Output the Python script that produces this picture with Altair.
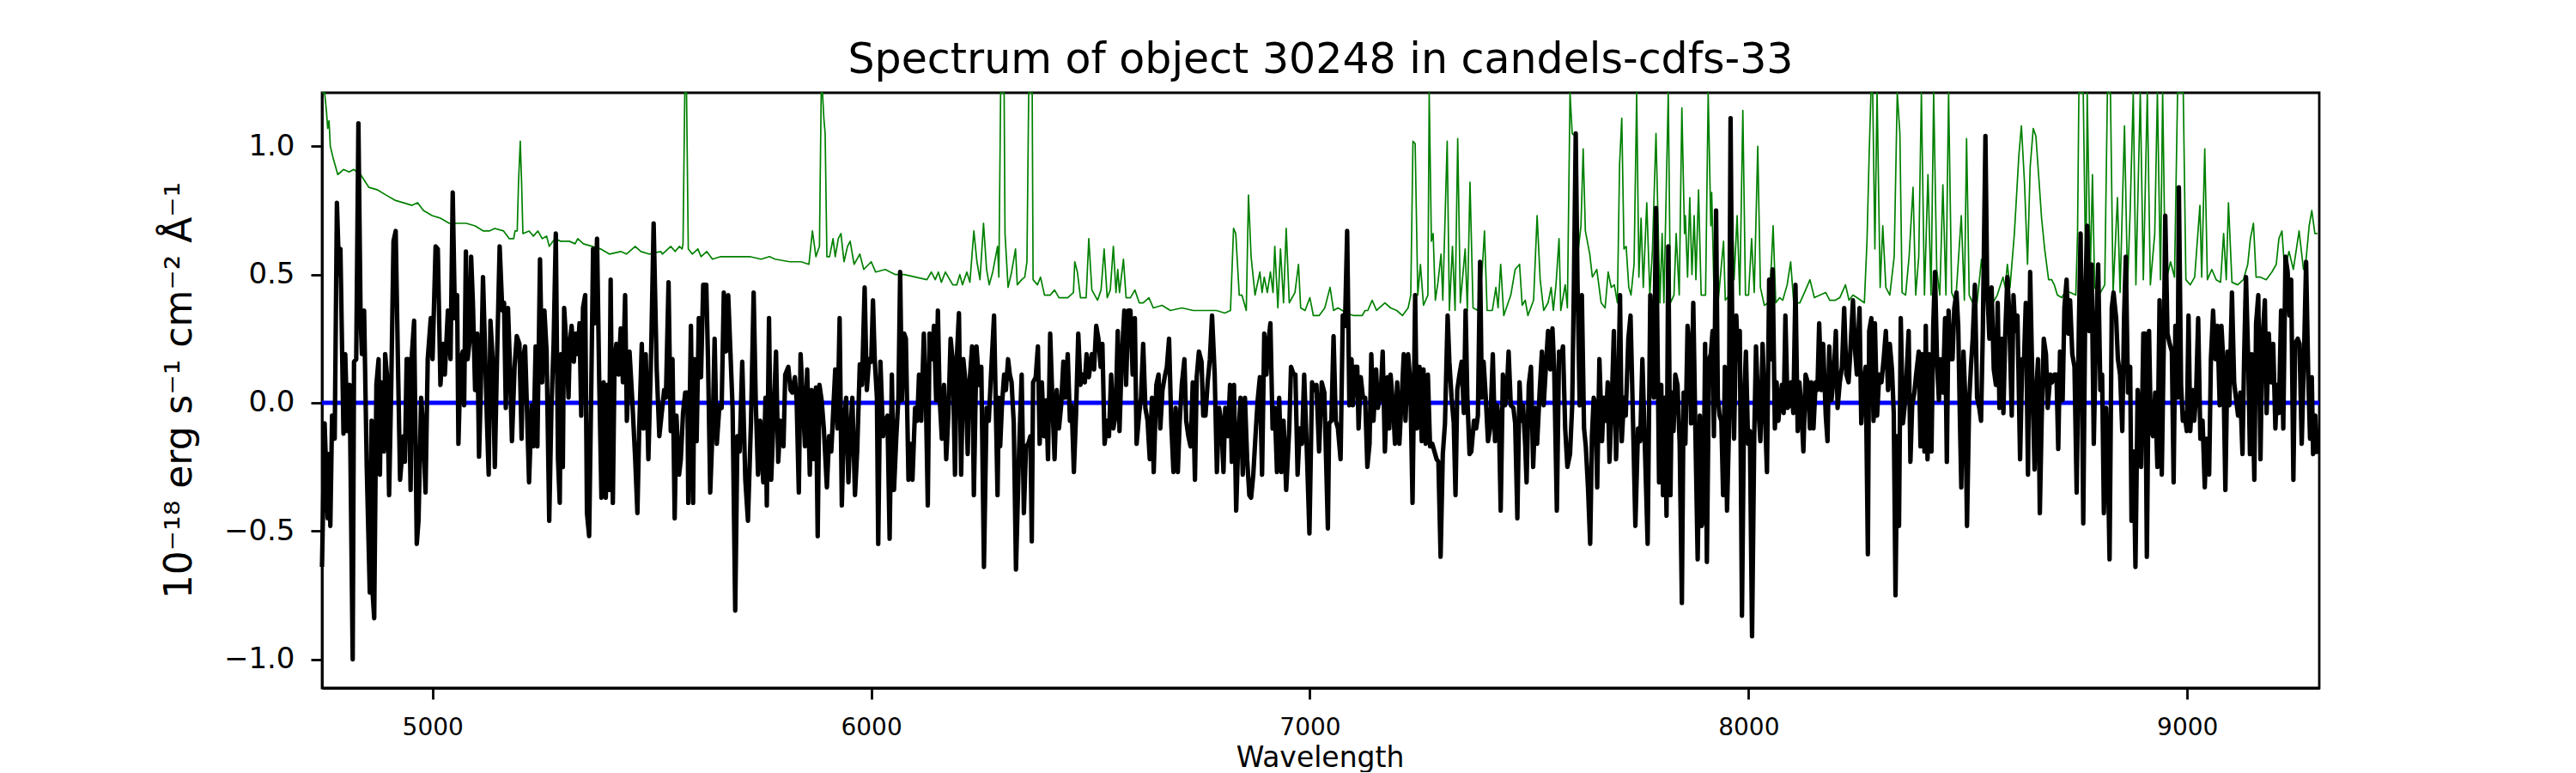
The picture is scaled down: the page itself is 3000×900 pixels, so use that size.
import altair as alt
import pandas as pd

TITLE = "Spectrum of object 30248 in candels-cdfs-33"
X_TITLE = "Wavelength"
Y_TITLE = "10\u207b\u00b9\u2078 erg s\u207b\u00b9 cm\u207b\u00b2 \u00c5\u207b\u00b9"
X_TICKS = [5000, 6000, 7000, 8000, 9000]
Y_TICKS = [-1.0, -0.5, 0.0, 0.5, 1.0]
X_DOMAIN = [4748, 9301]
Y_DOMAIN = [-1.112, 1.209]
ZERO_LEVEL = [0.0]

# observed flux (wavelength, flux)
FLUX_1 = [(4748,-0.64),(4754,-0.08),(4761,-0.45),(4764,-0.2),(4767,-0.48),(4771,-0.05),(4777,-0.14),(4782,0.78),(4787,0.5),(4790,0.6),
(4797,-0.12),(4801,0.19),(4806,-0.11),(4811,0.07),(4818,-1.0),(4821,0.16),(4826,0.17),(4831,1.09),(4836,0.33),(4839,0.19),
(4844,0.36),(4850,-0.25),(4857,-0.74),(4861,-0.07),(4863,-0.73),(4867,-0.84),(4872,0.07),(4877,0.17),(4880,-0.28),(4883,0.08),
(4889,-0.19),(4892,0.19),(4896,0.11),(4901,-0.36),(4906,0.08),(4911,0.63),(4916,0.67),(4921,0.17),(4926,-0.3),(4934,-0.13),
(4937,-0.23),(4941,0.17),(4945,0.17),(4950,-0.34),(4953,0.19),(4958,0.32),(4964,-0.55),(4968,-0.46),(4974,0.02),(4978,-0.08),
(4984,-0.35),(4989,0.17),(4996,0.33),(5000,0.17),(5007,0.61),(5012,0.6),(5018,0.07),(5024,0.23),(5028,0.11),(5035,0.36),
(5041,0.17),(5046,0.82),(5051,0.33),(5056,0.42),(5059,-0.16),(5064,0.17),(5069,0.2),(5072,-0.01),(5076,0.59),(5080,0.17),
(5085,0.25),(5088,0.57),(5092,0.39),(5097,0.05),(5102,0.27),(5106,-0.21),(5110,0.05),(5115,0.49),(5119,0.25),(5124,-0.07),
(5128,-0.28),(5132,0.32),(5137,0.17),(5142,-0.25),(5147,0.17),(5153,0.61),(5159,0.36),(5163,0.39),(5167,-0.02),(5172,0.37),
(5176,0.17),(5181,-0.15),(5187,0.14),(5192,0.26),(5198,0.23),(5203,-0.14),(5206,0.17),(5211,0.22),(5215,-0.01),(5220,-0.31),
(5226,-0.01),(5230,-0.17),(5235,0.22),(5239,-0.17),(5245,0.56),(5250,0.08),(5255,0.36),(5260,0.2),(5266,-0.46),(5271,-0.02),
(5276,0.23),(5281,0.66),(5286,-0.22),(5290,-0.39),(5293,0.19),(5297,-0.25),(5300,0.37),(5305,0.23),(5310,0.02),(5313,0.23),
(5317,0.3),(5322,0.16),(5327,0.27),(5331,0.19),(5335,0.31),(5339,-0.05),(5343,0.37),(5348,0.42),(5352,-0.43),(5357,-0.52),
(5362,0.08),(5366,0.6),(5370,0.31),(5375,0.64),(5380,0.08),(5385,-0.37),(5390,0.08),(5395,-0.37),(5399,0.07),(5402,-0.34),
(5406,0.48),(5411,-0.39),(5415,0.17),(5419,0.23),(5424,0.11),(5429,0.29),(5434,0.08),(5439,0.42),(5443,-0.07),(5449,0.2),
(5455,0.02),(5462,-0.22),(5467,-0.43),(5471,-0.11),(5477,0.23),(5481,-0.1),(5486,0.19),(5492,-0.22),(5498,0.17),(5504,0.7),
(5511,0.13),(5517,-0.13)]

FLUX_2 = [(5528,0.05),(5532,0.02),(5538,0.47),(5543,-0.11),(5547,0.17),(5552,-0.45),(5556,-0.05),(5562,-0.28),(5566,-0.22),(5571,-0.04),
(5576,0.04),(5581,0.04),(5583,-0.39),(5589,0.3),(5594,-0.39),(5597,0.17),(5602,-0.15),(5607,0.33),(5612,0.1),(5617,0.46),
(5624,0.46),(5628,0.17),(5633,-0.35),(5639,-0.07),(5643,0.25),(5648,-0.16),(5654,-0.01),(5659,-0.02),(5664,0.43),(5669,0.2),
(5674,0.42),(5679,0.2),(5684,-0.02),(5690,-0.81),(5695,-0.13),(5700,-0.19),(5706,0.16),(5713,-0.3),(5719,-0.46),(5726,-0.07),
(5732,0.43),(5737,-0.01),(5742,-0.28),(5747,-0.07),(5754,-0.31),(5759,0.02),(5762,-0.4),(5767,0.33),(5772,-0.3),(5777,-0.08),
(5783,0.2),(5788,-0.23),(5793,-0.07),(5800,-0.17),(5804,0.11),(5811,0.14),(5816,0.05),(5820,0.04),(5826,0.1),(5830,0.01),
(5835,-0.35),(5839,0.19),(5843,0.05),(5849,-0.17),(5854,0.13),(5860,-0.28),(5864,0.05),(5869,-0.22),(5874,0.06),(5878,-0.52),
(5882,0.07),(5887,0.01),(5892,-0.1),(5899,-0.33),(5904,-0.13),(5909,-0.19),(5914,-0.01),(5918,0.13),(5923,-0.1),(5928,0.33),
(5933,-0.4),(5938,-0.07),(5943,0.02),(5948,-0.31),(5952,-0.13),(5957,0.02),(5963,-0.36),(5968,-0.19),(5974,0.15),(5979,0.07),
(5985,0.45),(5990,0.05),(5995,0.17),(6000,0.16),(6004,0.4),(6008,0.17),(6013,0.02),(6016,-0.55),(6021,0.16),(6027,-0.13),
(6032,-0.07),(6037,-0.05),(6042,-0.53),(6047,0.11),(6052,-0.34),(6057,-0.14),(6062,0.02),(6066,0.51),(6070,0.01),(6075,0.27),
(6079,0.25),(6085,-0.3),(6090,-0.16),(6094,-0.3),(6100,-0.02),(6105,-0.07),(6109,0.11),(6114,-0.07),(6120,0.27),(6125,-0.02),
(6129,-0.4),(6133,0.27),(6139,0.17),(6143,0.3),(6148,0.01),(6152,0.36),(6156,0.02),(6161,-0.14),(6166,0.07),(6171,-0.22),
(6176,-0.04),(6181,0.25),(6186,0.16),(6191,-0.28),(6195,0.17),(6200,0.35),(6205,-0.28),(6210,0.17),(6215,0.08),(6220,-0.2),
(6223,0.05),(6230,0.22),(6234,-0.36),(6240,0.22),(6246,0.07),(6251,0.14),(6257,-0.64),(6263,-0.02),(6268,-0.07),(6274,0.14),
(6280,0.34)]

FLUX_3 = [(6288,-0.36),(6291,0.02),(6294,-0.17),(6298,-0.01),(6303,0.11),(6307,0.05),(6312,0.17),(6316,0.11),(6320,0.08),(6325,-0.08),
(6330,-0.65),(6337,-0.19),(6343,0.11),(6348,-0.43),(6353,-0.17),(6358,-0.16),(6363,-0.13),(6366,-0.54),(6369,0.08),(6375,0.1),
(6380,0.22),(6384,-0.16),(6389,0.08),(6394,-0.13),(6399,0.01),(6403,-0.22),(6408,0.27),(6414,-0.04),(6418,-0.22),(6423,0.05),
(6428,-0.1),(6433,-0.01),(6438,0.16),(6442,0.02),(6448,0.19),(6453,-0.07),(6457,-0.01),(6462,-0.27),(6467,-0.04),(6472,0.27),
(6477,0.07),(6481,0.11),(6487,0.08),(6491,0.19),(6496,0.1),(6503,0.19),(6508,0.13),(6513,0.3),(6518,0.25),(6523,0.14),
(6527,0.23),(6532,-0.16),(6538,-0.07),(6542,-0.13),(6547,0.11),(6552,-0.1),(6557,-0.05),(6562,0.28),(6566,-0.11),(6571,0.17),
(6577,0.36),(6581,0.07),(6586,0.36),(6591,0.36),(6596,0.11),(6601,0.33),(6605,-0.16),(6611,-0.04),(6615,0.02),(6620,0.23),
(6625,-0.02),(6630,-0.07),(6635,-0.22),(6640,0.02),(6644,-0.27),(6650,0.07),(6655,0.11),(6659,-0.1),(6664,0.05),(6669,0.1),
(6674,0.14),(6679,0.25),(6684,-0.08),(6689,-0.27),(6694,-0.02),(6699,-0.27),(6703,-0.08),(6708,0.07),(6714,0.17),(6718,-0.07),
(6723,-0.13),(6728,-0.17),(6733,0.08),(6738,-0.3),(6742,0.1),(6747,0.2),(6753,0.16),(6757,-0.05),(6762,-0.05),(6767,0.08),
(6772,0.17),(6777,0.34),(6783,0.11),(6788,-0.27),(6793,-0.02),(6798,-0.07),(6803,-0.27),(6807,-0.02),(6813,-0.13),(6818,0.07),
(6822,-0.23),(6827,0.07),(6832,-0.42),(6837,-0.13),(6842,0.02),(6847,-0.28),(6852,0.02),(6857,-0.22),(6862,-0.36),(6866,-0.37),
(6871,-0.28),(6876,-0.13),(6881,0.01),(6886,0.1),(6891,-0.28),(6896,0.27),(6901,0.11),(6905,0.23),(6910,0.31),(6915,-0.1),
(6920,-0.02),(6925,-0.27),(6930,0.02),(6935,-0.27),(6940,-0.07),(6946,-0.34),(6953,-0.1),(6957,0.14),(6963,0.11),(6967,0.11),
(6972,-0.28),(6977,-0.1),(6982,-0.16),(6987,0.11),(6992,-0.13),(6999,-0.51),(7005,0.08),(7010,0.05),(7015,0.07),(7021,-0.19),
(7027,0.08),(7033,0.04),(7041,-0.49)]

FLUX_4 = [(7044,-0.08),(7049,-0.07),(7054,0.26),(7059,-0.07),(7064,-0.1),(7070,-0.22),(7075,0.34),(7080,0.3),(7085,0.67),(7090,-0.01),
(7095,0.17),(7098,-0.01),(7103,0.14),(7108,0.14),(7111,-0.1),(7116,0.1),(7121,0.02),(7126,0.02),(7131,-0.25),(7136,-0.16),
(7140,0.19),(7145,-0.07),(7151,0.13),(7155,-0.02),(7162,0.05),(7166,0.2),(7171,-0.19),(7177,0.1),(7181,-0.1),(7184,0.11),
(7190,-0.02),(7194,-0.16),(7199,0.08),(7204,-0.16),(7211,0.08),(7214,0.19),(7218,-0.07),(7224,0.19),(7229,0.08),(7234,-0.39),
(7240,0.42),(7244,-0.1),(7250,0.14),(7255,-0.15),(7259,0.13),(7264,-0.16),(7269,0.11),(7274,-0.17),(7279,-0.16),(7284,-0.19),
(7289,-0.22),(7293,-0.23),(7298,-0.6),(7303,-0.2),(7308,-0.08),(7314,0.34),(7318,0.16),(7323,0.02),(7328,-0.08),(7332,-0.36),
(7336,0.05),(7341,0.11),(7346,0.16),(7351,-0.04),(7355,0.36),(7359,0.02),(7364,-0.2),(7368,-0.19),(7374,-0.07),(7379,-0.1),
(7383,-0.05),(7388,0.55),(7392,0.02),(7396,0.16),(7401,0.02),(7406,-0.15),(7411,-0.1),(7417,0.19),(7422,-0.15),(7427,-0.01),
(7431,-0.07),(7435,-0.42),(7440,0.11),(7445,-0.01),(7449,0.04),(7453,0.2),(7458,-0.01),(7464,-0.02),(7468,-0.08),(7473,-0.45),
(7478,0.08),(7482,-0.07),(7486,-0.01),(7491,-0.17),(7494,-0.31),(7499,0.07),(7504,0.14),(7509,-0.25),(7514,-0.02),(7518,-0.16),
(7524,0.05),(7529,0.2),(7533,-0.01),(7538,0.14),(7543,0.28),(7548,0.13),(7553,0.29),(7557,0.13),(7563,-0.42),(7568,0.2),
(7572,0.17),(7577,0.22),(7582,-0.1),(7587,-0.25),(7593,-0.2),(7598,-0.01),(7602,0.48),(7606,1.05),(7610,0.48),(7615,-0.01),
(7620,0.42),(7625,-0.1),(7629,-0.17),(7634,-0.33),(7639,-0.55),(7643,-0.13),(7647,0.02),(7651,-0.01),(7655,-0.33),(7660,0.17),
(7666,-0.15),(7670,0.02),(7675,-0.07),(7679,0.08),(7683,-0.23),(7688,-0.01),(7693,0.28),(7698,-0.22),(7703,0.05),(7707,0.42),
(7711,-0.15),(7716,0.02),(7720,-0.05),(7726,0.25),(7731,0.34),(7735,0.05),(7742,-0.48),(7748,-0.1),(7753,-0.15),(7758,0.17),
(7763,-0.13),(7770,-0.55),(7776,0.42),(7781,0.17),(7784,0.02),(7789,0.76)]

FLUX_5 = [(7796,-0.31),(7801,0.07),(7805,-0.36),(7809,0.02),(7813,-0.44),(7817,0.61),(7822,-0.36),(7825,0.04),(7829,-0.11),(7833,0.11),
(7838,0.07),(7843,-0.16),(7848,-0.78),(7852,0.04),(7856,-0.16),(7861,0.3),(7866,0.2),(7869,-0.08),(7874,0.39),(7879,-0.13),
(7884,-0.61),(7889,-0.05),(7893,-0.48),(7897,-0.45),(7901,0.23),(7905,-0.62),(7910,0.17),(7914,0.19),(7918,0.28),(7921,-0.13),
(7926,0.75),(7930,0.02),(7934,-0.05),(7938,-0.07),(7942,-0.36),(7946,0.14),(7951,-0.42),(7955,-0.13),(7959,1.11),(7964,0.02),
(7967,-0.14),(7972,0.34),(7976,0.17),(7980,0.28),(7985,-0.83),(7990,0.02),(7994,0.2),(7999,-0.16),(8003,-0.11),(8008,-0.91),
(8013,-0.13),(8017,0.22),(8022,-0.01),(8027,-0.15),(8032,0.23),(8037,-0.02),(8042,-0.27),(8047,0.48),(8052,0.17),(8055,0.52),
(8060,-0.1),(8064,0.08),(8068,-0.07),(8071,-0.01),(8076,0.07),(8080,-0.04),(8084,0.34),(8089,-0.02),(8093,-0.01),(8097,0.08),
(8102,-0.04),(8107,0.46),(8112,-0.11),(8116,0.08),(8120,-0.01),(8125,-0.19),(8130,0.11),(8135,0.08),(8140,-0.1),(8143,0.08),
(8148,-0.1),(8153,0.08),(8157,0.05),(8161,0.31),(8166,0.05),(8170,0.23),(8176,-0.05),(8180,-0.15),(8184,0.22),(8189,0.01),
(8194,0.1),(8199,0.28),(8203,-0.02),(8208,0.08),(8213,0.14),(8218,0.37),(8223,0.11),(8228,0.08),(8232,0.2),(8238,0.4),
(8243,0.2),(8247,0.11),(8253,0.37),(8257,-0.08),(8262,0.07),(8267,0.14),(8272,-0.59),(8275,0.28),(8280,0.33),(8285,-0.07),
(8288,0.31),(8293,-0.05),(8298,0.11),(8303,0.08),(8308,0.17),(8313,0.28),(8318,0.05),(8322,0.23),(8327,0.13),(8331,-0.04),
(8335,-0.75),(8339,-0.13),(8343,-0.48),(8347,0.33),(8352,-0.08),(8356,-0.01),(8360,0.1),(8365,0.28),(8369,-0.23),(8373,-0.01),
(8378,0.04),(8382,0.11),(8388,0.2),(8392,-0.17),(8396,0.19),(8401,-0.19),(8404,0.3),(8408,-0.22),(8412,0.19),(8417,-0.19),
(8421,0.3),(8425,0.51),(8430,0.14),(8434,0.01),(8438,0.17),(8443,0.04),(8448,0.33),(8452,-0.23),(8456,0.36),(8461,0.17),
(8465,0.17),(8469,0.37),(8474,0.43),(8478,0.3),(8482,-0.08),(8485,-0.33),(8490,0.2),(8494,0.02),(8498,-0.48),(8503,0.01),
(8507,0.14),(8511,0.25),(8516,0.46),(8521,0.02),(8526,-0.02),(8530,-0.07),(8534,0.27),(8540,1.04),(8544,0.45),(8549,0.25),
(8554,0.45)]

FLUX_6 = [(8559,0.13),(8564,0.07),(8568,0.39),(8572,-0.02),(8577,0.25),(8581,-0.04),(8585,0.26),(8590,0.49),(8594,0.36),(8600,-0.05),
(8604,0.42),(8608,0.28),(8613,0.34),(8619,-0.22),(8624,0.17),(8628,0.17),(8632,0.39),(8637,-0.28),(8642,0.51),(8647,0.08),
(8652,-0.26),(8656,0.05),(8660,0.17),(8664,-0.43),(8668,-0.08),(8673,0.25),(8678,0.19),(8682,-0.02),(8688,0.11),(8692,0.08),
(8697,0.11),(8702,0.11),(8706,-0.18),(8710,0.2),(8716,0.01),(8720,0.37),(8725,0.48),(8729,0.27),(8733,0.4),(8738,0.19),
(8743,0.14),(8748,-0.35),(8753,0.3),(8757,0.66),(8763,-0.47),(8768,0.46),(8772,0.69),(8777,0.28),(8782,0.54),(8787,-0.16),
(8792,0.27),(8797,0.54),(8802,0.05),(8806,0.11),(8810,-0.43),(8815,-0.02),(8819,-0.22),(8823,-0.61),(8828,0.37),(8832,0.43),
(8838,0.33),(8842,0.17),(8847,0.11),(8852,-0.11),(8856,0.33),(8860,0.57),(8865,0.04),(8870,0.14),(8873,-0.46),(8878,-0.19),
(8882,-0.64),(8887,0.05),(8891,-0.05),(8895,-0.25),(8900,0.27),(8904,0.27),(8908,-0.6),(8913,0.28),(8917,-0.1),(8922,-0.13),
(8927,0.04),(8932,-0.25),(8937,0.4),(8942,-0.28),(8947,0.28),(8950,0.73),(8955,0.27),(8960,0.23),(8965,0.2),(8969,-0.31),
(8973,0.3),(8978,0.02),(8981,0.84),(8986,0.07),(8990,-0.07),(8994,-0.04),(8999,-0.11),(9003,0.34),(9007,-0.11),(9012,0.05),
(9016,-0.07),(9020,0.02),(9025,0.33),(9030,-0.14),(9035,-0.07),(9040,-0.33),(9044,-0.14),(9050,-0.28),(9054,0.17),(9059,0.36),
(9064,0.17),(9069,0.3),(9074,-0.01),(9078,0.3),(9082,0.17),(9087,-0.34),(9092,0.2),(9096,-0.01),(9102,0.43),(9107,0.08),
(9111,0.02),(9116,-0.05),(9121,0.04),(9126,-0.2),(9130,0.2),(9134,0.49),(9139,0.17),(9143,-0.2),(9147,0.19),(9153,-0.3),
(9157,0.31),(9162,0.42),(9167,-0.22),(9171,0.23),(9177,0.4),(9181,-0.04),(9186,0.27),(9191,0.08),(9196,0.23),(9201,-0.1),
(9205,0.07),(9209,-0.04),(9214,0.36),(9219,-0.1),(9224,0.57),(9229,0.51),(9233,0.34),(9237,0.48),(9242,-0.3),(9246,0.23),
(9252,0.25),(9256,0.23),(9261,-0.16),(9266,0.17),(9271,0.55),(9276,0.1),(9280,-0.14),(9284,0.1),(9287,-0.2),(9292,-0.05),
(9297,-0.2)]

# noise / sky spectrum (wavelength, value); values above the frame are held at its top edge
SKY_1 = [(4748,1.5),(4754,1.21),(4758,1.14),(4761,1.07),(4764,1.1),(4767,1.0),(4774,0.95),(4784,0.89),(4797,0.91),(4810,0.9),
(4820,0.91),(4836,0.89),(4855,0.84),(4875,0.83),(4894,0.81),(4914,0.79),(4934,0.78),(4953,0.77),(4966,0.78),(4979,0.75),
(4999,0.73),(5018,0.72),(5038,0.7),(5057,0.7),(5077,0.7),(5097,0.69),(5116,0.67),(5129,0.67),(5142,0.68),(5162,0.67),
(5175,0.64),(5185,0.64),(5188,0.67),(5193,0.67),(5196,0.86),(5200,1.02),(5203,0.86),(5206,0.66),(5220,0.67),(5230,0.65),
(5240,0.67),(5250,0.64),(5260,0.65),(5266,0.61),(5279,0.64),(5292,0.63),(5312,0.63),(5325,0.62),(5331,0.64),(5344,0.62),
(5364,0.61),(5383,0.6),(5403,0.58),(5429,0.59),(5442,0.58),(5462,0.61),(5475,0.59),(5494,0.58),(5520,0.59)]

SKY_2 = [(5524,0.58),(5543,0.61),(5553,0.59),(5563,0.61),(5569,0.6),(5571,0.62),(5575,2.0),(5579,2.0),(5583,0.6),(5592,0.58),
(5605,0.6),(5612,0.57),(5625,0.59),(5638,0.56),(5657,0.57),(5690,0.57),(5723,0.57),(5749,0.56),(5768,0.57),(5781,0.56),
(5814,0.55),(5840,0.55),(5858,0.54),(5866,0.67),(5874,0.57),(5882,0.61),(5886,1.8),(5889,1.6),(5892,1.11),(5895,1.05),
(5899,0.57),(5905,0.57),(5913,0.64),(5918,0.57),(5925,0.64),(5931,0.66),(5938,0.55),(5946,0.61),(5952,0.63),(5961,0.54),
(5974,0.58),(5983,0.52),(6000,0.55),(6010,0.51),(6032,0.52),(6055,0.5),(6075,0.5),(6101,0.49),(6127,0.48),(6137,0.51),
(6146,0.48),(6153,0.51),(6160,0.47),(6169,0.51),(6186,0.46),(6195,0.46),(6202,0.5),(6208,0.46),(6218,0.51),(6225,0.47),
(6234,0.67),(6241,0.55),(6248,0.48),(6256,0.7),(6263,0.52),(6269,0.46),(6277,0.51)]

SKY_3 = [(6288,0.61),(6291,0.49),(6295,1.8),(6299,2.0),(6303,1.8),(6305,0.66),(6312,0.45),(6320,0.51),(6329,0.6),(6333,0.46),
(6343,0.48),(6350,0.49),(6355,0.55),(6359,1.8),(6363,2.0),(6367,1.8),(6369,0.48),(6379,0.46),(6386,0.49),(6395,0.42),
(6408,0.42),(6418,0.44),(6428,0.41),(6448,0.41),(6461,0.43),(6464,0.55),(6470,0.51),(6477,0.41),(6490,0.41),(6496,0.64),
(6503,0.44),(6516,0.4),(6524,0.44),(6531,0.6),(6538,0.41),(6545,0.44),(6552,0.61),(6558,0.43),(6562,0.52),(6566,0.43),
(6575,0.56),(6581,0.41),(6591,0.41),(6601,0.44),(6611,0.39),(6620,0.39),(6633,0.41),(6643,0.37),(6663,0.38),(6682,0.36),
(6708,0.37),(6734,0.36),(6761,0.36),(6787,0.36),(6806,0.35),(6819,0.36),(6826,0.68),(6831,0.66),(6839,0.42),(6845,0.42),
(6855,0.36),(6860,0.81),(6866,0.57),(6875,0.42),(6886,0.51),(6891,0.43),(6896,0.49),(6903,0.43),(6910,0.51),(6916,0.43),
(6920,0.61),(6927,0.37),(6933,0.6),(6940,0.39),(6946,0.68),(6953,0.39),(6966,0.43),(6974,0.54),(6979,0.37),(6989,0.36),
(7000,0.41),(7008,0.34),(7021,0.34),(7034,0.37),(7046,0.45)]

SKY_4 = [(7054,0.36),(7064,0.37),(7074,0.36),(7083,0.35),(7100,0.34),(7119,0.34),(7126,0.36),(7132,0.36),(7142,0.4),(7152,0.36),
(7171,0.39),(7184,0.37),(7198,0.36),(7211,0.34),(7224,0.37),(7230,0.42),(7235,1.02),(7240,1.01),(7246,0.42),(7252,0.54),
(7259,0.38),(7269,0.42),(7272,1.8),(7277,0.63),(7281,0.66),(7286,0.4),(7292,0.47),(7299,0.58),(7303,0.4),(7313,1.02),
(7318,0.36),(7325,0.61),(7331,0.36),(7337,1.03),(7343,0.39),(7354,0.6),(7359,0.36),(7365,0.86),(7372,0.37),(7383,0.36),
(7393,0.52),(7398,0.67),(7404,0.36),(7416,0.36),(7424,0.45),(7429,0.37),(7435,0.54),(7442,0.34),(7458,0.42),(7468,0.52),
(7478,0.54),(7484,0.38),(7491,0.4),(7497,0.34),(7510,0.4),(7518,0.73),(7525,0.48),(7533,0.36),(7543,0.39),(7550,0.45),
(7555,0.36),(7561,0.46),(7568,0.64),(7572,0.36),(7582,0.46),(7587,0.37),(7593,1.8),(7598,1.05),(7605,1.04),(7612,0.6),
(7618,0.69),(7623,0.99),(7628,0.67),(7638,0.58),(7644,0.49),(7654,0.52),(7664,0.39),(7673,0.37),(7680,0.51),(7687,0.45),
(7694,0.46),(7701,0.39),(7706,0.93),(7711,1.11),(7716,0.6),(7721,0.61),(7727,0.45),(7732,0.42),(7739,0.54),(7745,1.8),
(7750,0.49),(7755,0.72),(7760,0.45),(7768,0.78),(7775,0.42),(7781,0.6),(7789,1.05)]

SKY_5 = [(7798,0.39),(7803,0.66),(7807,0.39),(7817,1.8),(7822,0.39),(7830,0.42),(7835,0.66),(7842,0.42),(7848,1.15),(7854,0.66),
(7856,0.73),(7861,0.49),(7866,0.8),(7871,0.5),(7876,0.73),(7880,0.48),(7886,0.83),(7892,0.42),(7902,0.42),(7908,1.8),
(7914,0.69),(7916,0.82),(7921,0.45),(7931,0.4),(7943,0.63),(7947,0.4),(7957,0.42),(7962,0.8),(7967,0.48),(7974,0.73),
(7980,0.42),(7987,1.14),(7993,0.42),(8000,0.42),(8007,0.64),(8013,0.43),(8021,1.0),(8027,0.45),(8036,0.38),(8045,0.39),
(8052,0.54),(8056,0.69),(8062,0.39),(8071,0.41),(8078,0.4),(8088,0.46),(8096,0.55),(8103,0.39),(8117,0.39),(8130,0.44),
(8140,0.48),(8150,0.41),(8163,0.42),(8176,0.43),(8185,0.4),(8198,0.4),(8208,0.41),(8221,0.46),(8229,0.4),(8238,0.42),
(8247,0.41),(8264,0.39),(8270,0.63),(8275,0.97),(8279,1.8),(8283,1.8),(8288,0.6),(8293,1.8),(8300,0.45),(8306,0.69),
(8313,0.45),(8322,0.42),(8332,0.57),(8339,1.8),(8345,1.05),(8350,0.43),(8358,0.42),(8366,0.57),(8375,0.84),(8381,0.42),
(8388,0.57),(8394,1.8),(8401,0.42),(8409,0.89),(8416,0.42),(8422,1.8),(8429,0.52),(8436,0.42),(8443,0.85),(8450,0.42),
(8456,1.8),(8463,0.43),(8472,0.39),(8485,0.73),(8492,0.4),(8497,1.03),(8503,0.42),(8511,0.39),(8521,0.39),(8531,0.56),
(8537,0.45),(8547,0.41),(8557,0.39),(8567,0.42)]

SKY_6 = [(8580,0.49),(8585,0.45),(8590,0.54),(8596,0.45),(8606,0.66),(8616,0.96),(8622,1.08),(8629,0.86),(8636,0.54),(8642,0.92),
(8649,1.07),(8655,1.04),(8662,0.87),(8668,0.72),(8675,0.6),(8684,0.48),(8691,0.48),(8697,0.46),(8704,0.42),(8714,0.41),
(8724,0.44),(8733,0.43),(8746,0.42),(8750,0.66),(8753,1.8),(8757,1.8),(8763,1.8),(8769,0.45),(8772,1.8),(8779,0.5),
(8784,0.89),(8789,0.45),(8799,0.42),(8812,0.46),(8818,1.8),(8825,1.8),(8831,0.43),(8841,0.8),(8847,0.43),(8857,1.08),
(8864,0.46),(8870,0.75),(8877,1.8),(8883,0.46),(8893,1.8),(8900,0.48),(8909,1.8),(8916,0.46),(8926,0.66),(8932,1.8),
(8939,0.48),(8944,1.8),(8950,0.5),(8955,0.5),(8962,0.55),(8971,0.49),(8978,1.8),(8984,1.8),(8991,1.8),(8997,0.48),
(9007,0.46),(9017,0.49),(9029,0.77),(9033,0.49),(9040,0.99),(9046,0.48),(9056,0.52),(9066,0.48),(9076,0.47),(9083,0.66),
(9089,0.48),(9094,0.78),(9102,0.47),(9115,0.46),(9128,0.48),(9138,0.54),(9144,0.64),(9151,0.7),(9157,0.49),(9167,0.49),
(9180,0.48),(9193,0.51),(9203,0.54),(9209,0.64),(9216,0.67),(9222,0.52),(9232,0.59),(9242,0.52),(9255,0.67),(9265,0.52),
(9271,0.56),(9278,0.69),(9284,0.75),(9291,0.66),(9297,0.66)]

FONT = "DejaVu Sans"

flux_df = pd.DataFrame(FLUX_1 + FLUX_2 + FLUX_3 + FLUX_4 + FLUX_5 + FLUX_6, columns=["wave", "flux"])
sky_df = pd.DataFrame(SKY_1 + SKY_2 + SKY_3 + SKY_4 + SKY_5 + SKY_6, columns=["wave", "flux"])
zero_df = pd.DataFrame({"flux": ZERO_LEVEL})

x_enc = alt.X(
    "wave:Q",
    scale=alt.Scale(domain=X_DOMAIN, nice=False, zero=False),
    axis=alt.Axis(
        values=X_TICKS, format="d", title=X_TITLE, grid=False,
        labelFont=FONT, labelFontSize=28, labelColor="black",
        labelBaseline="alphabetic", labelPadding=41, labelFlush=False, labelOverlap=False,
        tickSize=13, tickWidth=2.8, tickColor="black",
        domainColor="black", domainWidth=2.8,
        titleFont=FONT, titleFontSize=33, titleFontWeight="normal", titleColor="black",
        titleX=1162, titleY=91, titleBaseline="alphabetic", titleAlign="center",
    ),
)
y_enc = alt.Y(
    "flux:Q",
    scale=alt.Scale(domain=Y_DOMAIN, nice=False, zero=False, clamp=True),
    axis=alt.Axis(
        values=Y_TICKS, format=".1f", title=Y_TITLE, grid=False,
        labelFont=FONT, labelFontSize=34, labelColor="black",
        labelPadding=19, labelOverlap=False, labelFlush=False,
        tickSize=13, tickWidth=2.8, tickColor="black",
        domainColor="black", domainWidth=2.8,
        titleFont=FONT, titleFontSize=44, titleFontWeight="normal", titleColor="black",
        titleX=-166, titleY=346, titleAngle=270, titleAlign="center", titleBaseline="middle",
    ),
)

sky = alt.Chart(sky_df).mark_line(
    color="#008000", strokeWidth=1.7, strokeJoin="round"
).encode(x=x_enc, y=y_enc, order="wave:Q")

zero = alt.Chart(zero_df).mark_rule(color="#0000ff", strokeWidth=5.2).encode(y=y_enc)

flux = alt.Chart(flux_df).mark_line(
    color="black", strokeWidth=5.2, strokeJoin="round"
).encode(x=x_enc, y=y_enc, order="wave:Q")

chart = alt.layer(sky, zero, flux).properties(
    width=2326,
    height=693,
    title=alt.TitleParams(
        TITLE, font=FONT, fontSize=49, fontWeight="normal", color="black",
        anchor="middle", baseline="alphabetic", offset=23, dy=50,
    ),
    autosize=alt.AutoSizeParams(type="none"),
    padding={"left": 367, "top": 100, "right": 280, "bottom": 98},
).configure_view(stroke="black", strokeWidth=2.8)

chart.save("out.html", embed_options={"renderer": "svg", "actions": False})
